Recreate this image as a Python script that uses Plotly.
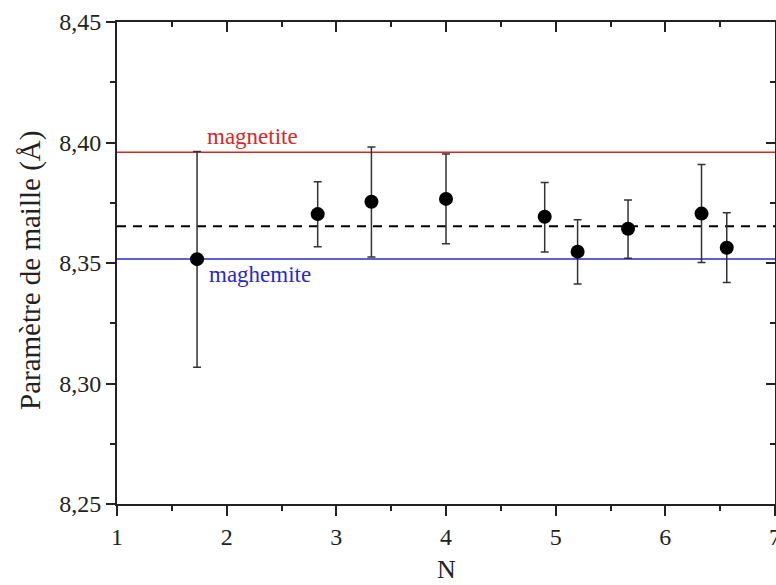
import plotly.graph_objects as go

# ---- data ----
n_values = [1.73, 2.83, 3.32, 4.00, 4.90, 5.20, 5.66, 6.33, 6.56]
a_values = [8.3516, 8.3703, 8.3754, 8.3766, 8.3692, 8.3547, 8.3642, 8.3705, 8.3563]
err_plus = [0.0447, 0.0134, 0.0227, 0.0186, 0.0142, 0.0132, 0.0119, 0.0204, 0.0146]
err_minus = [0.0449, 0.0136, 0.0229, 0.0186, 0.0146, 0.0134, 0.0122, 0.0203, 0.0144]

x_range = [1, 7]
y_range = [8.25, 8.45]
magnetite_value = 8.396
maghemite_value = 8.3517
mean_value = 8.3653

x_title = "N"
y_title = "Paramètre de maille (Å)"
magnetite_label = "magnetite"
maghemite_label = "maghemite"
label_x = [2.24, 2.30]

FONT = "Liberation Serif, Times New Roman, DejaVu Serif, serif"

fig = go.Figure()

# reference lines
fig.add_trace(go.Scatter(x=x_range, y=[magnetite_value] * 2, mode="lines",
                         line=dict(color="#d62828", width=1.5), showlegend=False, hoverinfo="skip"))
fig.add_trace(go.Scatter(x=x_range, y=[maghemite_value] * 2, mode="lines",
                         line=dict(color="#2a2ac8", width=1.5), showlegend=False, hoverinfo="skip"))
fig.add_trace(go.Scatter(x=x_range, y=[mean_value] * 2, mode="lines",
                         line=dict(color="black", width=2, dash="9px,7px"), showlegend=False, hoverinfo="skip"))

# data points
fig.add_trace(go.Scatter(
    x=n_values, y=a_values, mode="markers",
    marker=dict(color="black", size=14, symbol="circle"),
    error_y=dict(type="data", array=err_plus, arrayminus=err_minus, symmetric=False,
                 color="#333333", thickness=1.5, width=4),
    showlegend=False,
))

# dummy trace for mirrored axes
fig.add_trace(go.Scatter(x=[None], y=[None], xaxis="x2", yaxis="y2", showlegend=False, hoverinfo="skip"))

fig.add_annotation(x=label_x[0], y=magnetite_value, xref="x", yref="y", text=magnetite_label,
                   showarrow=False, yanchor="bottom", yshift=1,
                   font=dict(family=FONT, size=23, color="#d62828"))
fig.add_annotation(x=label_x[1], y=maghemite_value, xref="x", yref="y", text=maghemite_label,
                   showarrow=False, yanchor="top", yshift=-1,
                   font=dict(family=FONT, size=23, color="#2a2ac8"))

# axis titles
fig.add_annotation(x=0.5, y=0, xref="paper", yref="paper", text=x_title, showarrow=False,
                   yanchor="middle", yshift=-65, font=dict(family=FONT, size=26, color="#222222"))
fig.add_annotation(x=0, y=0.5, xref="paper", yref="paper", text=y_title, showarrow=False,
                   textangle=-90, xanchor="center", xshift=-87, yshift=-8,
                   font=dict(family=FONT, size=29, color="#222222"))

fig.update_layout(
    width=776, height=585,
    margin=dict(l=117, r=1, t=22, b=81, autoexpand=False),
    paper_bgcolor="white", plot_bgcolor="white",
    separators=",.",
    font=dict(family=FONT, size=24, color="#222222"),
    xaxis=dict(range=x_range, dtick=1, tick0=1, showgrid=False, zeroline=False, automargin=False,
               showline=True, linecolor="#222222", linewidth=2,
               ticks="outside", ticklen=10, tickwidth=2, tickcolor="#222222",
               ticklabeloverflow="allow",
               minor=dict(dtick=0.5, ticks="outside", ticklen=5, tickwidth=2, tickcolor="#222222"),
               tickfont=dict(family=FONT, size=24, color="#222222")),
    yaxis=dict(range=y_range, dtick=0.05, tick0=8.25, tickformat=".2f", showgrid=False, zeroline=False,
               automargin=False, showline=True, linecolor="#222222", linewidth=2,
               ticks="outside", ticklen=9, tickwidth=2, tickcolor="#222222",
               ticklabeloverflow="allow",
               minor=dict(dtick=0.025, ticks="outside", ticklen=5, tickwidth=2, tickcolor="#222222"),
               tickfont=dict(family=FONT, size=24, color="#222222")),
    xaxis2=dict(overlaying="x", side="top", range=x_range, dtick=1, tick0=1, showgrid=False,
                automargin=False, zeroline=False, showline=True, linecolor="#222222", linewidth=2,
                ticks="inside", ticklen=10, tickwidth=2, tickcolor="#222222", showticklabels=False,
                minor=dict(dtick=0.5, ticks="inside", ticklen=5, tickwidth=2, tickcolor="#222222")),
    yaxis2=dict(overlaying="y", side="right", range=y_range, dtick=0.05, tick0=8.25, showgrid=False,
                automargin=False, zeroline=False, showline=True, linecolor="#222222", linewidth=2,
                ticks="inside", ticklen=9, tickwidth=2, tickcolor="#222222", showticklabels=False,
                minor=dict(dtick=0.025, ticks="inside", ticklen=5, tickwidth=2, tickcolor="#222222")),
)

fig.write_html("out.html")
